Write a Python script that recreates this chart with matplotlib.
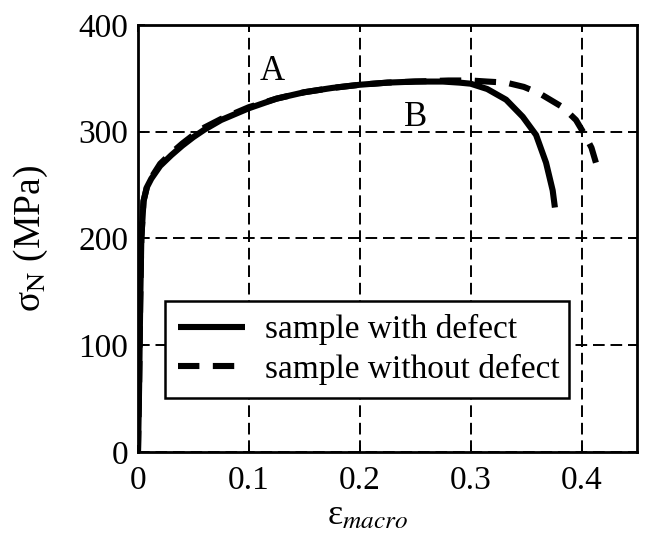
import matplotlib
matplotlib.use('Agg')
import matplotlib.pyplot as plt
import numpy as np

plt.rcParams['font.family'] = ['Liberation Serif', 'DejaVu Serif']
plt.rcParams['mathtext.fontset'] = 'stix'

# strain / nominal stress
eps_defect = [0.0, 0.001, 0.002, 0.003, 0.005, 0.008, 0.012, 0.02, 0.03, 0.04,
              0.05, 0.06, 0.075, 0.1, 0.125, 0.15, 0.175, 0.2, 0.225, 0.25,
              0.275, 0.29, 0.30, 0.315, 0.332, 0.347, 0.359, 0.368, 0.374, 0.376]
sig_defect = [0, 60, 140, 200, 235, 248, 256, 268, 278, 287,
              295, 302, 311, 322, 331, 337, 341, 344, 346, 347,
              347, 346, 345, 340, 330, 314, 297, 271, 245, 229]

eps_nodefect = [0.0, 0.001, 0.002, 0.003, 0.005, 0.008, 0.012, 0.02, 0.03, 0.04,
                0.05, 0.06, 0.075, 0.1, 0.125, 0.15, 0.175, 0.2, 0.225, 0.25,
                0.28, 0.30, 0.315, 0.332, 0.348, 0.362, 0.383, 0.395, 0.403, 0.409, 0.413]
sig_nodefect = [0, 60, 140, 200, 235, 248, 257, 270, 280, 289,
                297, 304, 312, 323, 331, 337, 341, 344, 346, 347,
                348, 348, 347, 346, 342, 336, 323, 311, 297, 285, 271]

xticks = [0, 0.1, 0.2, 0.3, 0.4]
xticklabels = ['0', '0.1', '0.2', '0.3', '0.4']
yticks = [0, 100, 200, 300, 400]

fig = plt.figure(figsize=(6.46, 5.43), dpi=100)
ax = fig.add_axes([0.2136, 0.1676, 0.7724, 0.7864])

ax.plot(eps_defect, sig_defect, color='black', lw=4.4, solid_capstyle='butt',
        label='sample with defect')
ax.plot(eps_nodefect, sig_nodefect, color='black', lw=4.4, ls=(0, (3.5, 2.2)),
        label='sample without defect')

ax.set_xlim(0, 0.45)
ax.set_ylim(0, 400)
ax.set_xticks(xticks)
ax.set_xticklabels(xticklabels)
ax.set_yticks(yticks)
ax.grid(True, color='black', ls=(0, (6, 3)), lw=1.4)
ax.tick_params(direction='in', length=5, width=1.3, labelsize=24,
               top=True, right=True)
ax.tick_params(axis='x', pad=10)
ax.tick_params(axis='y', pad=7)
for s in ax.spines.values():
    s.set_linewidth(2)

ax.set_xlabel(r'ε$_{macro}$', fontsize=26, labelpad=2, x=0.46)
ax.set_ylabel(r'σ$_{\mathrm{N}}$ (MPa)', fontsize=27, labelpad=20)

ax.text(0.11, 356, 'A', fontsize=25, va='center', ha='left')
ax.text(0.24, 313, 'B', fontsize=25, va='center', ha='left')

leg = ax.legend(loc='lower left', bbox_to_anchor=(0.054, 0.126, 0.81, 0.24),
                mode='expand', fontsize=24, frameon=True, fancybox=False,
                edgecolor='black', framealpha=1, handlelength=2.0,
                handletextpad=0.6, borderpad=0.4, labelspacing=0.25,
                borderaxespad=0)
leg.get_frame().set_linewidth(1.8)

fig.savefig('out.png', dpi=100)
